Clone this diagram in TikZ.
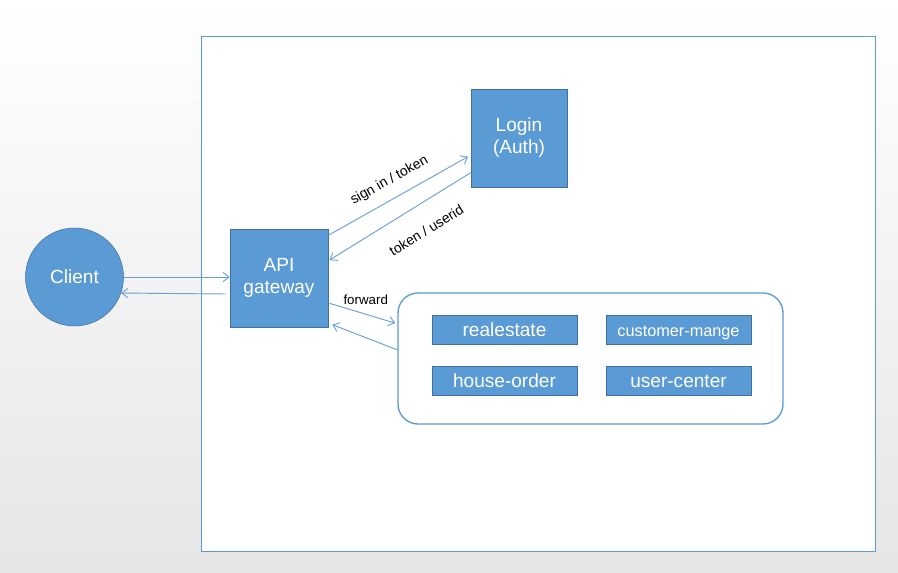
\documentclass[tikz,border=0pt]{standalone}
\usepackage{fontspec}
\setmainfont{Liberation Sans}
\usetikzlibrary{arrows.meta,shapes,calc,positioning}

\definecolor{boxblue}{HTML}{5B9BD5}
\definecolor{boxedge}{HTML}{41719C}
\definecolor{linkblue}{HTML}{6A9FDA}

\tikzset{
  service/.style={draw=boxedge, fill=boxblue, text=white, inner sep=0pt,
                  font=\fontsize{14.3}{16.5}\selectfont, align=center},
  module/.style={service, minimum width=108.75pt, minimum height=21.75pt,
                 text height=10.6pt, text depth=0pt},
  link/.style={linkblue, line width=0.7pt, -{Straight Barb[length=4.5pt,width=7pt]}},
  tag/.style={text=black, font=\fontsize{10.5}{12}\selectfont, inner sep=1pt}
}

\begin{document}
\begin{tikzpicture}[x=0.75pt, y=-0.75pt]
  % Define dimensions
  \def\W{898}
  \def\H{573}
  % Draw background
  \shade[top color=white, bottom color=black!10] (0,0) rectangle (\W,\H);
  \useasboundingbox (0,0) rectangle (\W,\H);

  % Draw frame
  \draw[boxblue, line width=0.7pt, fill=white] (201,36) rectangle (875,551);

  % Define nodes
  \node[service, circle, minimum size=73.5pt] (client) at (74.5,277) {Client};
  \node[service, minimum width=73.5pt, minimum height=73.5pt] (api) at (279,278) {API\\gateway};
  \node[service, minimum width=72pt, minimum height=73.5pt] (login) at (519,138) {Login\\(Auth)};

  \node[draw=boxblue, line width=1pt, fill=white, rounded corners=15pt,
        minimum width=288.75pt, minimum height=98.25pt] (services) at (590.5,358.5) {};
  \node[module] (realestate) at (504.5,329.5) {realestate};
  \node[module, font=\fontsize{12.2}{14}\selectfont] (customer) at (678.5,329.5) {customer-mange};
  \node[module] (order) at (504.5,380.5) {house-order};
  \node[module] (usercenter) at (678.5,380.5) {user-center};

  % Draw connectors
  \draw[link] (client.east) -- (client.east -| api.west);
  \draw[link] ([xshift=-3pt, yshift=-12pt]api.west) -- (client.-19);

  \draw[link] ([yshift=32pt]api.east) -- ([xshift=-2pt, yshift=-14pt]login.west)
    node[tag, pos=0.5, sloped, above=7pt] {sign in / token};
  \draw[link] ([yshift=-26pt]login.west) -- ([xshift=1pt, yshift=13.5pt]api.east)
    node[tag, pos=0.41, sloped, below=14pt] {token / userid};

  \draw[link] ([xshift=1pt, yshift=-19pt]api.east) -- ([xshift=-1.5pt, yshift=26.5pt]services.west)
    node[tag, font=\fontsize{10}{12}\selectfont, pos=0.55, above=6pt] {forward};
  \draw[link] ([yshift=6.5pt]services.west) -- ([xshift=3pt, yshift=-35pt]api.east);

\end{tikzpicture}
\end{document}
